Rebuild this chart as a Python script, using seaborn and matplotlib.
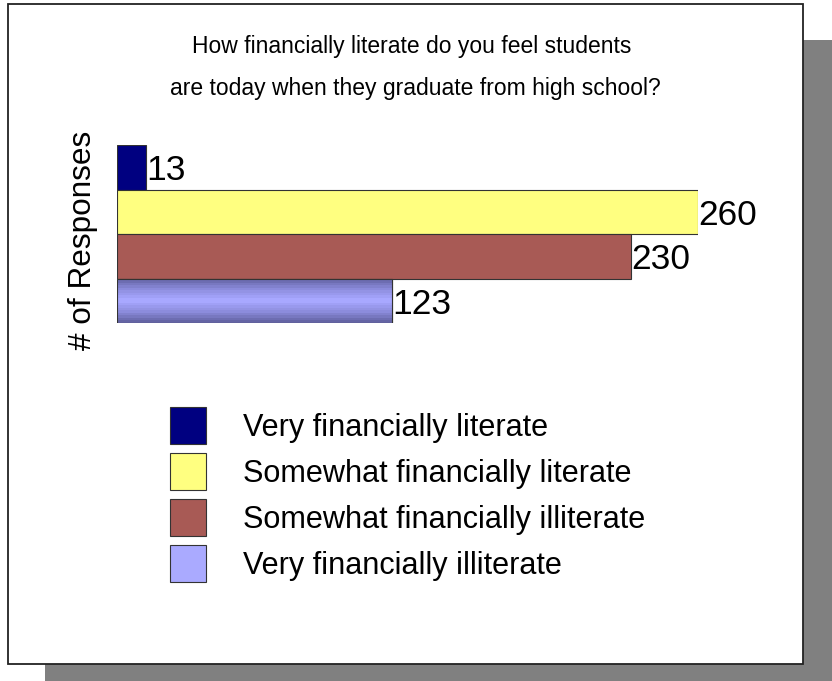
import numpy as np
import pandas as pd
import matplotlib
matplotlib.use("Agg")
import matplotlib.pyplot as plt
from matplotlib.patches import Rectangle
from matplotlib.colors import LinearSegmentedColormap
import seaborn as sns

# ---- data ----
categories = ["Very financially literate", "Somewhat financially literate",
              "Somewhat financially illiterate", "Very financially illiterate"]
responses = [13, 260, 230, 123]
bar_colors = ["#000080", "#FFFF80", "#A85A55", "#A8A8FF"]
title_lines = ["How financially literate do you feel students",
               "are today when they graduate from high school?"]
y_label = "# of Responses"

sns.set_theme(style="white")
plt.rcParams["font.family"] = ["Liberation Sans", "DejaVu Sans"]

W, H = 832, 681
fig = plt.figure(figsize=(W / 100, H / 100), dpi=100)
fig.patch.set_facecolor("white")

def fx(x):
    return x / W

def fy(y):
    return 1 - y / H

# shadow and frame
fig.add_artist(Rectangle((fx(45), fy(681)), fx(832) - fx(45), fy(40) - fy(681),
                         transform=fig.transFigure, facecolor="#808080",
                         edgecolor="none", zorder=-2))
fig.add_artist(Rectangle((fx(8), fy(664)), fx(803) - fx(8), fy(4) - fy(664),
                         transform=fig.transFigure, facecolor="white",
                         edgecolor="#222222", linewidth=1.3, zorder=-1))

# axes holding the bars
ax = fig.add_axes([fx(117), fy(323), fx(698) - fx(117), fy(145) - fy(323)])
ax.set_zorder(2)
ax.set_facecolor("none")
df = pd.DataFrame({"category": categories, "responses": responses})
sns.barplot(data=df, x="responses", y="category", hue="category",
            palette=bar_colors, orient="h", width=1.0, legend=False,
            edgecolor="#333333", linewidth=0.8, saturation=1, ax=ax)
ax.set_xticks([])
ax.set_yticks([])
ax.set_xlabel("")
for s in ax.spines.values():
    s.set_visible(False)

bars = [p for p in ax.patches if p.get_width() > 0]

# gradient fill for the last bar (dark edges, light middle)
p = bars[3]
x0, y0, w, h = p.get_x(), p.get_y(), p.get_width(), p.get_height()
grad = np.abs(np.linspace(-1, 1, 18))[:, None]
cmap = LinearSegmentedColormap.from_list("g", ["#A8A8FF", "#8C8CDC", "#6464A4"])
im = ax.imshow(grad, extent=(x0, x0 + w, y0 + h, y0), aspect="auto",
               cmap=cmap, zorder=p.get_zorder() + 0.1, interpolation="nearest")
im.set_clip_path(p)
ax.add_patch(Rectangle((x0, y0), w, h, facecolor="none", edgecolor="#333333",
                       linewidth=0.8, zorder=p.get_zorder() + 0.2))
ax.set_xlim(0, max(responses))
ax.set_ylim(len(categories) - 0.5, -0.5)

for b, v in zip(bars, responses):
    ax.text(b.get_x() + b.get_width(), b.get_y() + b.get_height() / 2,
            str(v), ha="left", va="center_baseline", fontsize=25.5,
            color="black", clip_on=False, transform=ax.transData)

ax.set_ylabel(y_label, fontsize=22.7, color="black", va="center")
ax.yaxis.set_label_coords((83 - 117) / (698 - 117), (323 - 240) / (323 - 145))

# title
fig.text(fx(412), fy(47), title_lines[0], ha="center", va="center",
         fontsize=16.5, color="black")
fig.text(fx(415), fy(89), title_lines[1], ha="center", va="center",
         fontsize=16.5, color="black")

# legend
legend_colors = ["#000080", "#FFFF80", "#A85A55", "#AAAAFF"]
for i, (lab, col) in enumerate(zip(categories, legend_colors)):
    top = 407 + i * 46
    fig.add_artist(Rectangle((fx(170), fy(top + 37)), fx(206) - fx(170),
                             fy(top) - fy(top + 37), transform=fig.transFigure,
                             facecolor=col, edgecolor="#333333", linewidth=0.8))
    fig.text(fx(243), fy(top + 21), lab, ha="left", va="center",
             fontsize=22.1, color="black")

fig.savefig("out.png", dpi=100)
